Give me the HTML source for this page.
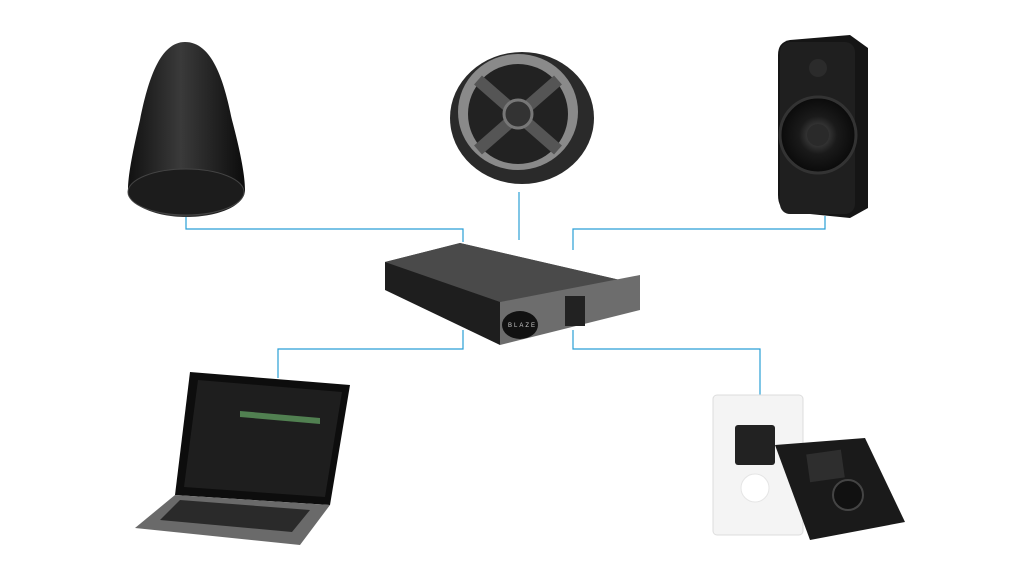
<!DOCTYPE html>
<html><head><style>
html,body{margin:0;padding:0;background:#fff;}
svg{display:block;}
</style></head><body>
<svg width="1024" height="585" viewBox="0 0 1024 585" xmlns="http://www.w3.org/2000/svg">
<defs>
<linearGradient id="pend" x1="0" x2="1"><stop offset="0" stop-color="#111"/><stop offset=".45" stop-color="#3a3a3a"/><stop offset="1" stop-color="#0c0c0c"/></linearGradient>
<linearGradient id="amp" x1="0" x2="0" y1="0" y2="1"><stop offset="0" stop-color="#555"/><stop offset="1" stop-color="#2e2e2e"/></linearGradient>
<radialGradient id="woof"><stop offset="0" stop-color="#555"/><stop offset=".5" stop-color="#1a1a1a"/><stop offset="1" stop-color="#0a0a0a"/></radialGradient>
</defs>
<g fill="none" stroke="#2a9fd6" stroke-width="1.2">
<polyline points="186,214 186,229 463,229 463,242"/>
<polyline points="519,192 519,240"/>
<polyline points="825,216 825,229 573,229 573,250"/>
<polyline points="463,330 463,349 278,349 278,378"/>
<polyline points="573,330 573,349 760,349 760,398"/>
</g>
<path d="M185,42 C160,42 148,80 140,120 C133,150 128,175 128,190 C128,205 155,217 186,217 C220,217 245,205 245,190 C245,175 240,150 232,120 C224,80 212,42 185,42Z" fill="url(#pend)"/>
<ellipse cx="186" cy="192" rx="58" ry="23" fill="#1c1c1c" stroke="#444"/>
<ellipse cx="522" cy="118" rx="72" ry="66" fill="#2a2a2a"/>
<ellipse cx="518" cy="112" rx="60" ry="58" fill="#8a8a8a"/>
<ellipse cx="518" cy="114" rx="50" ry="50" fill="#222"/>
<path d="M478,80 L558,150 M558,80 L478,150" stroke="#555" stroke-width="12"/>
<circle cx="518" cy="114" r="14" fill="#333" stroke="#777" stroke-width="3"/>
<path d="M790,40 L850,35 L868,48 L868,208 L850,218 L790,212 Q778,210 778,195 L778,55 Q778,42 790,40Z" fill="#151515"/>
<rect x="780" y="42" width="75" height="172" rx="10" fill="#1f1f1f"/>
<circle cx="818" cy="135" r="38" fill="url(#woof)" stroke="#333" stroke-width="3"/>
<circle cx="818" cy="135" r="11" fill="#2a2a2a"/>
<circle cx="818" cy="68" r="9" fill="#2b2b2b"/>
<polygon points="385,262 460,243 620,280 620,295 500,330 385,275" fill="url(#amp)"/>
<polygon points="385,262 500,302 620,280 460,243" fill="#4a4a4a"/>
<polygon points="385,262 500,302 500,345 385,290" fill="#1e1e1e"/>
<polygon points="500,302 640,275 640,310 500,345" fill="#6d6d6d"/>
<ellipse cx="520" cy="325" rx="18" ry="14" fill="#111"/>
<text x="508" y="327" font-family="Liberation Sans,sans-serif" font-size="6" fill="#ccc" letter-spacing="2">BLAZE</text>
<rect x="565" y="296" width="20" height="30" fill="#222"/>
<polygon points="190,372 350,385 330,505 175,495" fill="#0d0d0d"/>
<polygon points="198,380 342,392 325,497 184,487" fill="#1e1e1e"/>
<rect x="240" y="390" width="80" height="6" fill="#6a6" transform="skewY(5)" opacity=".7"/>
<polygon points="175,495 330,505 300,545 135,528" fill="#6a6a6a"/>
<polygon points="180,500 310,510 292,532 160,520" fill="#2a2a2a"/>
<rect x="713" y="395" width="90" height="140" rx="4" fill="#f4f4f4" stroke="#ddd"/>
<rect x="735" y="425" width="40" height="40" rx="3" fill="#222"/>
<circle cx="755" cy="488" r="14" fill="#fff" stroke="#e5e5e5"/>
<polygon points="775,445 865,438 905,522 810,540" fill="#1a1a1a"/>
<rect x="808" y="452" width="35" height="28" fill="#2e2e2e" transform="rotate(-8 825 466)"/>
<circle cx="848" cy="495" r="15" fill="#111" stroke="#444" stroke-width="2"/>
</svg>
</body></html>
